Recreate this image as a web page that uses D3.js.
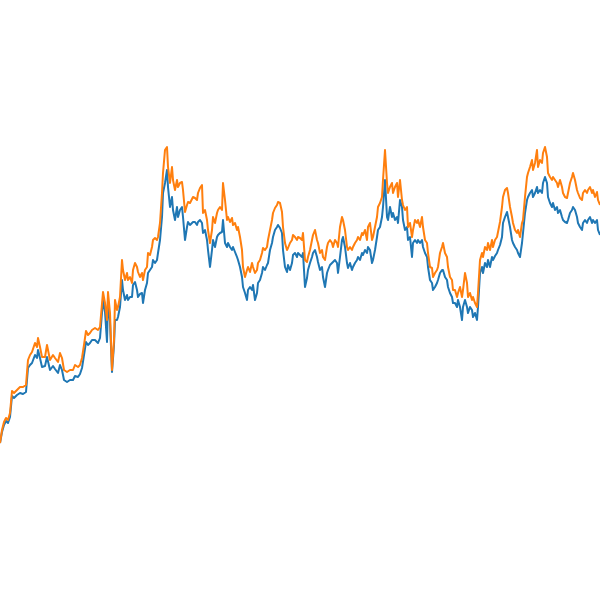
<!DOCTYPE html>
<html><head><meta charset="utf-8">
<script src="https://cdn.jsdelivr.net/npm/d3@7"></script>
<style>html,body{margin:0;padding:0;background:#fff;}svg{display:block;}</style>
</head><body>
<script>
const t = [0,2,4,6,8,10,12,14,17,20,23,26,28,30,32,35,37,38,40,42,45,47,50,53,55,58,60,62,64,67,70,73,75,78,80,82,84,86,88,90,92,95,98,100,103,105,107,108,110,112,114,115,117,118,120,122,123,125,127,128,130,132,133,135,137,138,140,142,143,145,147,148,150,152,153,155,157,158,160,162,163,165,167,168,170,172,173,175,177,178,180,182,183,185,187,188,190,193,195,197,198,200,202,203,205,207,208,210,212,213,215,217,218,220,222,223,225,227,228,230,232,233,235,237,238,240,242,243,245,247,248,250,252,253,255,257,258,260,262,263,265,267,268,270,272,273,275,277,278,280,282,283,285,287,288,290,292,293,295,297,298,300,302,303,305,307,308,310,312,313,315,317,318,320,322,323,325,327,328,330,332,333,335,337,338,340,342,343,345,347,348,350,352,353,355,357,358,360,362,363,365,367,368,370,372,373,375,377,378,380,382,383,385,387,388,390,392,393,395,397,398,400,402,403,405,407,408,410,412,413,415,417,418,420,422,423,425,427,428,430,432,433,435,437,438,440,442,443,445,447,448,450,452,453,455,457,458,460,462,463,465,467,468,470,472,473,475,477,478,480,482,483,485,487,488,490,492,493,495,497,498,500,502,503,505,507,508,510,512,513,515,517,518,520,522,523,525,527,528,530,532,533,535,537,538,540,542,543,545,547,548,550,552,553,555,557,558,560,562,563,565,567,568,570,572,573,575,577,578,580,582,583,585,587,588,590,592,593,595,597,598,600];

const seriesOrange = [157,170,178,182,180,187,209,207,210,213,213,215,240,245,248,257,253,262,253,243,243,255,240,245,242,238,247,242,230,228,230,230,235,233,235,242,255,269,265,267,270,272,270,273,308,297,280,308,287,230,260,300,290,293,303,340,330,320,327,320,323,317,330,337,333,328,323,327,320,330,333,347,345,353,360,362,360,363,377,407,427,450,453,433,417,433,420,410,420,413,417,418,410,388,395,398,397,403,402,400,407,412,415,387,390,380,370,357,370,383,377,387,390,393,390,417,400,380,383,378,382,375,377,370,373,363,350,333,323,330,333,328,337,333,327,330,337,340,347,352,350,353,360,370,380,387,392,395,398,397,388,373,357,350,352,357,360,365,363,360,363,362,360,367,340,338,343,350,360,365,370,360,357,347,350,343,340,353,357,360,357,353,360,357,353,373,383,380,370,353,350,353,350,353,357,360,363,360,367,365,370,360,373,377,360,363,373,383,393,397,403,420,450,417,407,413,417,407,413,417,403,420,400,395,390,393,373,377,363,370,380,377,380,373,383,373,360,357,347,333,332,323,327,330,333,347,353,357,347,343,333,323,320,310,310,303,307,313,303,310,327,317,303,307,300,303,297,293,307,340,347,343,353,350,357,350,360,353,360,363,368,378,393,403,410,412,407,393,383,377,370,367,370,363,377,380,403,423,427,433,440,430,437,450,433,440,437,447,453,443,427,423,420,423,420,417,413,420,413,407,403,402,407,417,423,427,420,410,407,402,400,407,410,407,410,413,407,410,403,408,400,395];

const seriesBlue = [157,168,175,179,177,183,204,202,205,207,206,208,232,235,237,245,242,250,242,233,234,243,230,234,231,227,235,230,220,218,220,220,224,223,226,232,245,258,255,257,260,260,257,262,300,288,258,300,278,228,255,280,280,283,293,320,310,300,305,300,303,303,315,318,310,303,306,307,297,310,317,327,330,333,340,337,340,347,360,383,407,417,430,413,393,403,390,380,393,383,390,393,383,360,373,378,375,378,378,375,378,380,377,367,370,360,350,333,350,360,353,363,365,367,368,380,357,353,357,353,350,353,348,343,340,333,323,313,307,300,310,313,310,315,300,307,317,320,327,333,330,335,337,350,357,363,370,373,375,372,367,350,333,328,335,330,337,345,347,343,347,345,343,347,313,322,330,337,343,347,350,343,338,330,333,323,313,327,330,335,337,338,340,337,327,343,360,363,353,337,332,337,330,333,337,340,343,340,347,345,350,347,353,350,337,340,350,363,370,373,383,393,420,383,380,393,383,387,380,383,377,400,393,380,370,373,360,363,343,357,360,357,360,357,360,353,347,343,333,320,317,310,313,317,320,327,330,330,323,320,313,307,303,297,297,293,300,293,280,293,300,293,287,293,290,283,287,280,293,327,333,327,337,333,340,333,343,340,344,347,350,355,363,377,383,388,383,373,360,357,353,350,347,343,357,367,387,400,403,407,410,403,407,413,407,410,407,417,423,417,403,397,393,397,390,393,387,390,383,380,378,377,380,387,390,393,390,383,377,373,370,377,380,377,380,383,377,380,377,380,370,365];

const W = 600, H = 600;
const x = d3.scaleLinear().domain([0, 600]).range([0, W]);
const y = d3.scaleLinear().domain([0, 600]).range([H, 0]);

const svg = d3.select("body").append("svg").attr("width", W).attr("height", H);

const line = d3.line().x((d, i) => x(t[i])).y(d => y(d));

svg.append("path").datum(seriesBlue)
  .attr("fill", "none").attr("stroke", "#1f77b4").attr("stroke-width", 2)
  .attr("stroke-linejoin", "round").attr("d", line);
svg.append("path").datum(seriesOrange)
  .attr("fill", "none").attr("stroke", "#ff7f0e").attr("stroke-width", 2)
  .attr("stroke-linejoin", "round").attr("d", line);
</script>
</body></html>
